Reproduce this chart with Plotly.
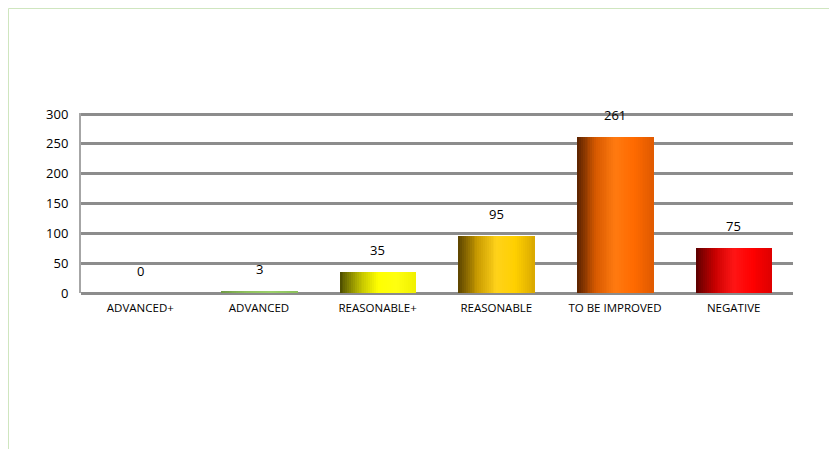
import plotly.graph_objects as go

categories = ["ADVANCED+", "ADVANCED", "REASONABLE+", "REASONABLE", "TO BE IMPROVED", "NEGATIVE"]
values = [0, 3, 35, 95, 261, 75]
y_ticks = [0, 50, 100, 150, 200, 250, 300]

# gradient stops per bar (left -> right)
grad = [
    ["#7a9a50", "#9acd6a", "#a8d878", "#9acd6a"],
    ["#6f9a45", "#8fc25d", "#9bd06a", "#8ac05a"],
    ["#4a4a00", "#b8b800", "#ffff00", "#ffff10", "#f0f000"],
    ["#5a4300", "#c89a00", "#ffd21a", "#ffd000", "#d9a800"],
    ["#5a2200", "#d85a00", "#ff7a10", "#ff6a00", "#e05a00"],
    ["#5a0000", "#c80000", "#ff1515", "#ff0000", "#dd0000"],
]

def hex2rgb(h):
    h = h.lstrip("#")
    return tuple(int(h[i:i + 2], 16) for i in (0, 2, 4))

def interp(stops, t):
    n = len(stops) - 1
    p = t * n
    i = min(int(p), n - 1)
    f = p - i
    a, b = hex2rgb(stops[i]), hex2rgb(stops[i + 1])
    c = [round(a[k] + (b[k] - a[k]) * f) for k in range(3)]
    return "rgb(%d,%d,%d)" % tuple(c)

fig = go.Figure()
bar_w = 0.64
strips = 40
sw = bar_w / strips
for s in range(strips):
    t = (s + 0.5) / strips
    cols = [interp(g, t) for g in grad]
    fig.add_trace(go.Bar(
        x=categories, y=values,
        width=sw * 1.3, offset=-bar_w / 2 + s * sw,
        marker=dict(color=cols, line=dict(width=0)),
        showlegend=False, hoverinfo="skip",
    ))

for c, v in zip(categories, values):
    fig.add_annotation(x=c, y=v, text=str(v), showarrow=False, yshift=22,
                       font=dict(size=13, color="#000", family="Open Sans"))

W, H = 829, 441
L, R, T, B = 73, 44, 105, 156
pw = W - L - R
ph = H - T - B
# outer light-green border (at page pixel 0.5)
fig.add_shape(type="rect", xref="paper", yref="paper",
              x0=(0.5 - L) / pw, x1=1.3, y0=-2, y1=(H - B - 0.5) / ph,
              line=dict(color="#cfe6bf", width=1), fillcolor="rgba(0,0,0,0)", layer="below")

fig.update_layout(
    width=W, height=H,
    margin=dict(l=L, r=R, t=T, b=B),
    paper_bgcolor="white", plot_bgcolor="white",
    barmode="overlay", bargap=0,
    font=dict(family="Open Sans", color="#000"),
    xaxis=dict(type="category", showgrid=False, showline=False, ticks="",
               tickfont=dict(size=11.5), zeroline=False, ticklabelstandoff=6),
    yaxis=dict(range=[0, 301.7], tickvals=y_ticks, ticktext=[str(t) for t in y_ticks],
               showgrid=True, gridcolor="#8c8c8c", gridwidth=3,
               zeroline=True, zerolinecolor="#8c8c8c", zerolinewidth=3,
               showline=True, linecolor="#a6a6a6", linewidth=2,
               ticks="", tickfont=dict(size=13), ticklabelstandoff=8),
)

fig.write_html("out.html")
